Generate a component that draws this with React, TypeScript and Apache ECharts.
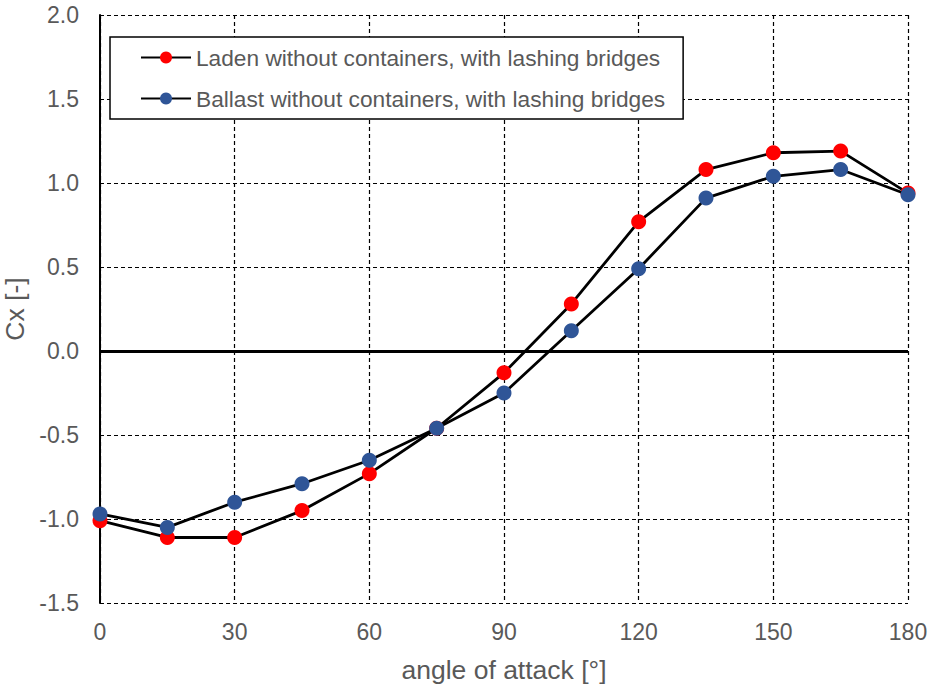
import React, { useEffect, useRef } from "react";
import * as echarts from "echarts";

const angles = [0, 15, 30, 45, 60, 75, 90, 105, 120, 135, 150, 165, 180];
const ladenValues = [-1.01, -1.11, -1.11, -0.95, -0.73, -0.46, -0.13, 0.28, 0.77, 1.08, 1.18, 1.19, 0.94];
const ballastValues = [-0.97, -1.05, -0.9, -0.79, -0.65, -0.46, -0.25, 0.12, 0.49, 0.91, 1.04, 1.08, 0.93];
const seriesNames = [
  "Laden without containers, with lashing bridges",
  "Ballast without containers, with lashing bridges",
];

export default function App() {
  const ref = useRef<HTMLDivElement>(null);
  useEffect(() => {
    if (!ref.current) return;
    const chart = echarts.init(ref.current, undefined, { renderer: "svg" });
    const font = "Liberation Sans, Arial, sans-serif";
    const mk = (vals: number[]) => angles.map((a, i) => [a, vals[i]]);
    chart.setOption({
      animation: false,
      backgroundColor: "#ffffff",
      grid: { left: 100, right: 21, top: 15, bottom: 84, containLabel: false, outerBoundsMode: "none" },
      legend: {
        orient: "vertical",
        left: 110,
        top: 37,
        padding: [9, 18, 9, 30],
        borderColor: "#000000",
        borderWidth: 1.5,
        backgroundColor: "#ffffff",
        itemWidth: 50,
        itemHeight: 15,
        itemGap: 18,
        textStyle: { fontFamily: font, fontSize: 22.7, color: "#595959" },
        data: seriesNames,
      },
      xAxis: {
        type: "value",
        min: 0,
        max: 180,
        interval: 30,
        name: "angle of attack [°]",
        nameLocation: "middle",
        nameGap: 53,
        nameTextStyle: { fontFamily: font, fontSize: 26.5, color: "#595959" },
        axisLine: { show: false },
        axisTick: { show: false },
        axisLabel: { fontFamily: font, fontSize: 23, color: "#595959", margin: 17 },
        splitLine: { show: true, lineStyle: { color: "#000000", type: [4, 3], width: 1.2 } },
      },
      yAxis: {
        type: "value",
        min: -1.5,
        max: 2.0,
        interval: 0.5,
        name: "Cx [-]",
        nameLocation: "middle",
        nameGap: 68,
        nameTextStyle: { fontFamily: font, fontSize: 26.5, color: "#595959" },
        axisLine: { show: true, onZero: false, lineStyle: { color: "#000000", width: 2 } },
        axisTick: { show: false },
        axisLabel: {
          fontFamily: font,
          fontSize: 23,
          color: "#595959",
          margin: 21,
          formatter: (v: number) => v.toFixed(1),
        },
        splitLine: { show: true, lineStyle: { color: "#000000", type: [4, 3], width: 1.2 } },
      },
      series: [
        {
          name: seriesNames[0],
          type: "line",
          data: mk(ladenValues),
          symbol: "circle",
          symbolSize: 15,
          itemStyle: { color: "#FF0000" },
          lineStyle: { color: "#000000", width: 2.8 },
          z: 3,
          markLine: {
            silent: true,
            symbol: "none",
            label: { show: false },
            lineStyle: { color: "#000000", width: 3, type: "solid" },
            data: [{ yAxis: 0 }],
          },
        },
        {
          name: seriesNames[1],
          type: "line",
          data: mk(ballastValues),
          symbol: "circle",
          symbolSize: 15,
          itemStyle: { color: "#2F5597" },
          lineStyle: { color: "#000000", width: 2.8 },
          z: 4,
        },
      ],
    });
    return () => chart.dispose();
  }, []);
  return <div ref={ref} style={{ width: 929, height: 687, position: "absolute", left: 0, top: 0 }} />;
}
